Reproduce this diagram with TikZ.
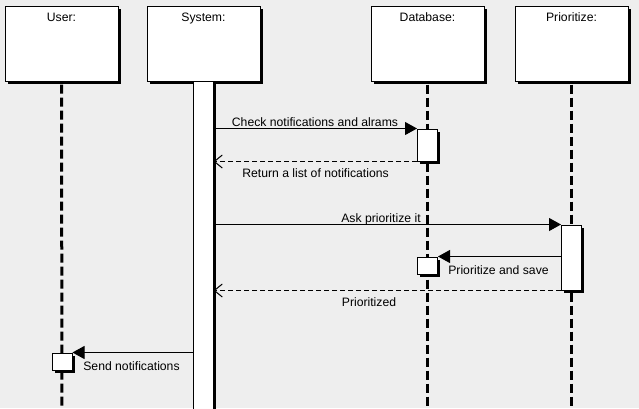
\documentclass[tikz,border=0pt]{standalone}
\usepackage{fontspec}
\setmainfont{Liberation Sans}
\usetikzlibrary{arrows.meta,shadows}
\definecolor{bg}{RGB}{238,238,238}
\begin{document}
\begin{tikzpicture}[x=1pt,y=-1pt,
  font=\fontsize{12.2}{14}\selectfont,
  shad/.style={general shadow={fill=black, shadow xshift=2.5pt, shadow yshift=-2.5pt}},
  objbox/.style={draw=black, line width=1pt, fill=white, minimum width=113pt, minimum height=75pt, inner sep=0pt, shad},
  actbox/.style={draw=black, line width=1pt, fill=white, minimum width=20pt, inner sep=0pt, shad},
  lifeline/.style={line width=3pt, dash pattern=on 9pt off 4pt},
  msg/.style={line width=1pt, -{Triangle[length=12pt,width=13pt]}},
  ret/.style={line width=1pt, dash pattern=on 5pt off 3pt, -{Straight Barb[length=8pt,width=13pt]}},
  lbl/.style={inner sep=0pt, anchor=base}]
\fill[bg] (0,0) rectangle (639,408);
\useasboundingbox (0,0) rectangle (639,408);

% lifeline ends
\coordinate (userend) at (62,410);
\coordinate (dbend) at (427.5,410);
\coordinate (prend) at (571.5,410);

% object boxes
\node[objbox] (userbox) at (61.5,43.5) {};
\node[objbox] (sysbox) at (203.5,43.5) {};
\node[objbox] (dbbox) at (427.5,43.5) {};
\node[objbox] (prbox) at (571.5,43.5) {};

\node[lbl] (usert) at (61.5,21.5) {User:};
\node[lbl] (syst) at (203.5,21.5) {System:};
\node[lbl] (dbt) at (427.5,21.5) {Database:};
\node[lbl] (prt) at (571.5,21.5) {Prioritize:};

% lifelines
\draw[lifeline] ([yshift=-3pt]userbox.south) -- (userend);
\draw[lifeline] ([yshift=-3pt]dbbox.south) -- (dbend);
\draw[lifeline] ([yshift=-3pt]prbox.south) -- (prend);

% activation bars
\node[actbox, minimum height=329pt] (sysbar) at (203,246) {};
\node[actbox, minimum height=32pt] (dbact1) at (427.5,145) {};
\node[actbox, minimum height=65pt] (pract) at (571.5,257.5) {};
\node[actbox, minimum height=17pt] (dbact2) at (427.5,265.5) {};
\node[actbox, minimum height=17pt] (useract) at (62,361.5) {};

% messages
\draw[msg] (sysbar.east |- dbact1.north west) -- (dbact1.north west);
\node[lbl] (l1) at (315,126.5) {Check notifications and alrams};

\draw[ret] (dbact1.south west) -- (sysbar.east |- dbact1.south west);
\node[lbl] (l2) at (315.5,177.5) {Return a list of notifications};

\draw[msg] (sysbar.east |- pract.north west) -- (pract.north west);
\node[lbl] (l3) at (381,222.5) {Ask prioritize it};

\draw[msg] (pract.west |- dbact2.north east) -- (dbact2.north east);
\node[lbl] (l4) at (498.5,274) {Prioritize and save};

\draw[ret] (pract.south west) -- (sysbar.east |- pract.south west);
\node[lbl] (l5) at (369,306) {Prioritized};

\draw[msg] (sysbar.west |- useract.north east) -- (useract.north east);
\node[lbl] (l6) at (131.5,370) {Send notifications};
\end{tikzpicture}
\end{document}
